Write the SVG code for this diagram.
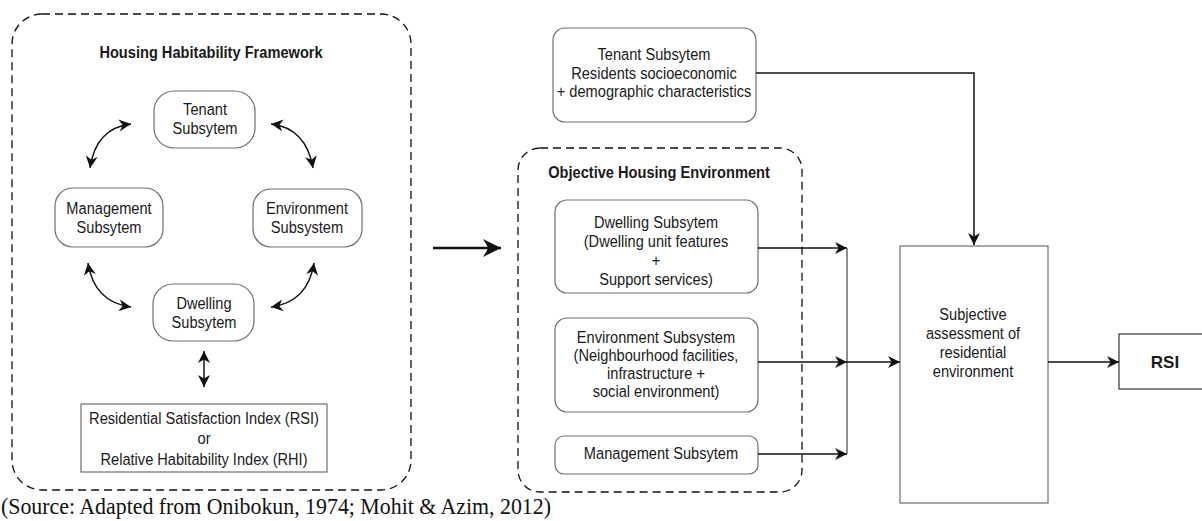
<svg xmlns="http://www.w3.org/2000/svg" width="1202" height="521" viewBox="0 0 1202 521">
<style>
.t{font-family:"Liberation Sans",Arial,sans-serif;font-size:17px;fill:#1a1a1a;text-anchor:middle}
.b{font-weight:bold}
.node{fill:#fff;stroke:#6e6e6e;stroke-width:1.2}
.dk{fill:#fff;stroke:#333;stroke-width:1.2}
.dash{fill:none;stroke:#111;stroke-width:1.3;stroke-dasharray:8 5}
.ln{fill:none;stroke:#111;stroke-width:1.5}
.src{font-family:"Liberation Serif","Times New Roman",serif;font-size:24px;fill:#111}
</style>
<defs>
<marker id="ah" viewBox="0 0 10 10" refX="10" refY="5" markerUnits="userSpaceOnUse" markerWidth="12" markerHeight="12" orient="auto-start-reverse">
<path d="M0,0 L10,5 L0,10 L3,5 Z" fill="#111"/>
</marker>
<marker id="big" viewBox="0 0 10 10" refX="10" refY="5" markerUnits="userSpaceOnUse" markerWidth="20" markerHeight="18" orient="auto">
<path d="M0,0 L10,5 L0,10 L3,5 Z" fill="#111"/>
</marker>
</defs>
<rect width="1202" height="521" fill="#fff"/>

<g id="framework">
<rect class="dash" x="12" y="14" width="399" height="476" rx="30"/>
<text class="t b" transform="translate(211 0) scale(0.86 1)" y="58">Housing Habitability Framework</text>
</g>

<g id="tenant-left">
<rect class="node" x="154" y="91" width="101" height="57" rx="20"/>
<text class="t" transform="translate(205 0) scale(0.86 1)" y="115">Tenant</text>
<text class="t" transform="translate(205 0) scale(0.86 1)" y="134">Subsytem</text>
</g>
<g id="management-left">
<rect class="node" x="55" y="188" width="108" height="59" rx="18"/>
<text class="t" transform="translate(109 0) scale(0.86 1)" y="214">Management</text>
<text class="t" transform="translate(109 0) scale(0.86 1)" y="233">Subsytem</text>
</g>
<g id="environment-left">
<rect class="node" x="253" y="189" width="109" height="58" rx="18"/>
<text class="t" transform="translate(307 0) scale(0.86 1)" y="214">Environment</text>
<text class="t" transform="translate(307 0) scale(0.86 1)" y="233">Subsystem</text>
</g>
<g id="dwelling-left">
<rect class="node" x="153" y="284" width="101" height="57" rx="20"/>
<text class="t" transform="translate(204 0) scale(0.86 1)" y="309">Dwelling</text>
<text class="t" transform="translate(204 0) scale(0.86 1)" y="328">Subsytem</text>
</g>
<g id="index-box">
<rect class="node" x="81" y="404" width="246" height="68"/>
<text class="t" transform="translate(204 0) scale(0.86 1)" y="424">Residential Satisfaction Index (RSI)</text>
<text class="t" transform="translate(204 0) scale(0.86 1)" y="444">or</text>
<text class="t" transform="translate(204 0) scale(0.86 1)" y="465">Relative Habitability Index (RHI)</text>
</g>

<g id="objective">
<rect class="dash" x="518" y="148" width="284" height="344" rx="22"/>
<text class="t b" transform="translate(659 0) scale(0.86 1)" y="178">Objective Housing Environment</text>
</g>
<g id="tenant-right">
<rect class="node" x="553" y="28" width="203" height="94" rx="12"/>
<text class="t" transform="translate(654 0) scale(0.86 1)" y="60">Tenant Subsytem</text>
<text class="t" transform="translate(654 0) scale(0.86 1)" y="79">Residents socioeconomic</text>
<text class="t" transform="translate(654 0) scale(0.86 1)" y="97">+ demographic characteristics</text>
</g>
<g id="dwelling-right">
<rect class="node" x="555" y="200" width="203" height="93" rx="12"/>
<text class="t" transform="translate(656 0) scale(0.86 1)" y="228">Dwelling Subsytem</text>
<text class="t" transform="translate(656 0) scale(0.86 1)" y="247">(Dwelling unit features</text>
<text class="t" transform="translate(656 0) scale(0.86 1)" y="266">+</text>
<text class="t" transform="translate(656 0) scale(0.86 1)" y="285">Support services)</text>
</g>
<g id="environment-right">
<rect class="node" x="555" y="318" width="203" height="94" rx="12"/>
<text class="t" transform="translate(656 0) scale(0.86 1)" y="343">Environment Subsystem</text>
<text class="t" transform="translate(656 0) scale(0.86 1)" y="361">(Neighbourhood facilities,</text>
<text class="t" transform="translate(656 0) scale(0.86 1)" y="379">infrastructure +</text>
<text class="t" transform="translate(656 0) scale(0.86 1)" y="397">social environment)</text>
</g>
<g id="management-right">
<rect class="node" x="555" y="436" width="203" height="38" rx="9"/>
<text class="t" transform="translate(661 0) scale(0.86 1)" y="459">Management Subsytem</text>
</g>
<g id="subjective">
<rect class="node" x="900" y="246" width="148" height="257"/>
<text class="t" transform="translate(973 0) scale(0.86 1)" y="320">Subjective</text>
<text class="t" transform="translate(973 0) scale(0.86 1)" y="339">assessment of</text>
<text class="t" transform="translate(973 0) scale(0.86 1)" y="358">residential</text>
<text class="t" transform="translate(973 0) scale(0.86 1)" y="377">environment</text>
</g>
<g id="rsi">
<rect class="dk" x="1119" y="334" width="95" height="55"/>
<text class="t b" x="1165" y="368" style="font-size:17px">RSI</text>
</g>

<g id="connectors">
<path class="ln" d="M90,168 Q96,128 131,124" marker-start="url(#ah)" marker-end="url(#ah)"/>
<path class="ln" d="M271,124 Q306,128 313,168" marker-start="url(#ah)" marker-end="url(#ah)"/>
<path class="ln" d="M88,263 Q94,302 131,307" marker-start="url(#ah)" marker-end="url(#ah)"/>
<path class="ln" d="M271,307 Q308,302 314,263" marker-start="url(#ah)" marker-end="url(#ah)"/>
<path class="ln" d="M204,351 V387" marker-start="url(#ah)" marker-end="url(#ah)"/>
<path class="ln" d="M433,248 H501" style="stroke-width:2.6" marker-end="url(#big)"/>
<path class="ln" d="M756,73 H974 V245" marker-end="url(#ah)"/>
<path class="ln" d="M758,248 H847" marker-end="url(#ah)"/>
<path class="ln" d="M758,362 H847" marker-end="url(#ah)"/>
<path class="ln" d="M758,454 H847" marker-end="url(#ah)"/>
<path class="ln" d="M847,248 V454" style="stroke:#444;stroke-width:1.2"/>
<path class="ln" d="M847,362 H900" marker-end="url(#ah)"/>
<path class="ln" d="M1048,362 H1119" marker-end="url(#ah)"/>
</g>

<text class="src" x="1" y="514" textLength="550" lengthAdjust="spacingAndGlyphs">(Source: Adapted from Onibokun, 1974; Mohit &amp; Azim, 2012)</text>
</svg>
